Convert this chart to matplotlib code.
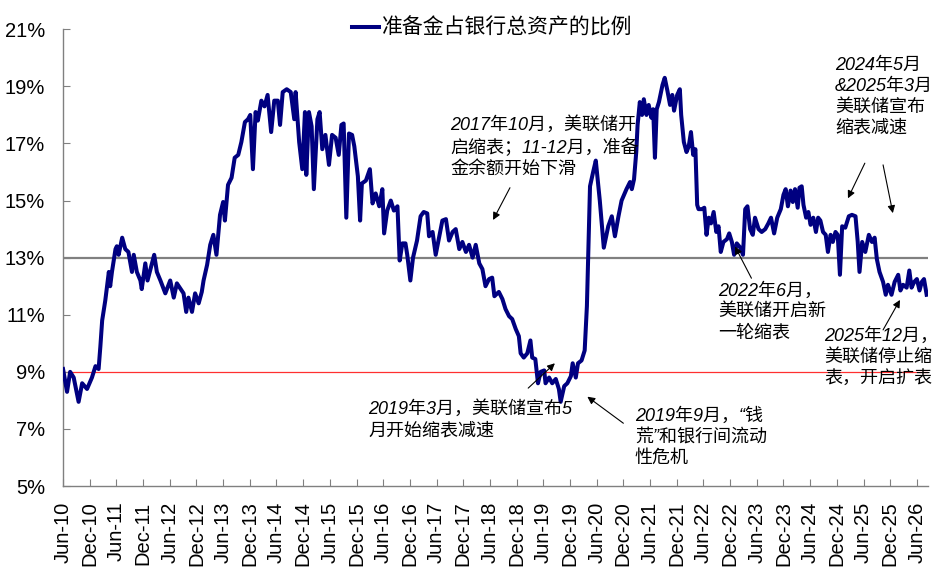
import matplotlib.pyplot as plt
from matplotlib.ticker import FuncFormatter

plt.rcParams['font.family'] = ['Liberation Sans', 'Noto Sans CJK SC']

# ---------------- data: months since Jun-2010, reserve / total bank assets (%) ----------------
months = [
    0, 0.9, 1.6, 2.4, 3.5, 4.3, 5.4, 6.5, 7.3, 8.0, 8.4, 8.8, 9.5, 9.9, 10.3, 10.6, 11.0,
    11.8, 12.1, 12.5, 13.3, 14.0, 14.7, 15.5, 15.9, 16.6, 17.4, 17.7, 18.5, 19.0, 20.0,
    20.5, 21.1, 21.9, 23.0, 24.1, 24.9, 25.6, 27.1, 27.7, 28.2, 29.0, 29.7, 30.5, 31.2,
    31.6, 32.4, 33.1,
    33.8, 34.5, 35.3, 36.0, 36.4, 37.1, 37.9, 38.6, 39.4, 40.1, 40.9, 41.6, 42.1, 42.7,
    43.3, 43.8, 44.6, 45.3, 46.0, 46.8, 47.5, 48.3, 48.8, 49.4, 50.3, 51.2, 52.0, 52.3,
    53.1, 53.8, 54.4, 54.7, 55.3, 55.9, 56.4, 57.2, 57.7, 58.3, 59.0, 59.8, 60.5, 61.3,
    62.0, 62.6, 63.1, 63.7,
    64.3, 65.0, 65.5, 66.3, 66.8, 67.2, 68.1, 69.0, 69.6, 70.3, 71.1, 71.8, 72.2, 72.9,
    73.7, 74.4, 75.2, 75.7, 76.3, 77.0, 77.4, 78.1, 78.7, 79.6, 80.4, 81.1, 81.9, 82.3,
    83.1, 83.8, 84.6, 85.3, 86.1, 86.8, 87.6, 88.3, 89.1, 89.8, 90.6, 91.3, 92.1, 92.8,
    93.6, 94.3,
    95.0, 95.8, 96.5, 97.0, 98.0, 98.8, 99.5, 100.3, 101.0, 101.8, 102.5, 102.9, 103.6,
    104.4, 105.1, 105.5, 106.2, 106.8, 107.4, 108.2, 108.5, 109.3, 110.0, 110.8, 111.5,
    111.9, 112.7, 113.4, 114.2, 114.6, 115.3, 115.8, 116.6, 117.3, 117.8, 118.1, 118.5,
    119.2, 119.8, 120.7, 121.6, 122.6, 123.4, 124.1, 124.9, 125.6, 126.7, 127.5, 127.9,
    128.4,
    128.9, 129.2, 129.7, 130.2, 130.6, 131.2, 131.7, 132.3, 132.7, 133.1, 133.5, 134.0,
    134.8, 135.3, 135.9, 136.5, 137.0, 137.4, 138.1, 138.7, 139.0, 139.6, 140.2, 140.7,
    141.2, 141.7, 142.2, 142.6, 142.9, 143.7, 144.2, 144.7, 145.2, 145.7, 146.3, 146.9,
    147.4, 147.9, 148.5, 149.3, 149.8, 150.4, 150.9, 151.5, 152.3, 152.9, 153.4, 153.9,
    154.5, 155.1, 155.6, 156.4, 157.1, 157.9, 158.6,
    159.2, 159.9, 160.6, 161.4, 162.0, 162.5, 163.0, 163.6, 164.1, 164.6, 165.2, 165.6,
    166.1, 166.5, 167.1, 167.6, 168.1, 168.7, 169.3, 169.8, 170.3, 170.9, 171.5, 172.0,
    172.6, 173.1, 173.7, 174.2, 174.7, 175.2, 175.9, 176.7, 177.4, 178.2, 178.7, 179.1,
    179.7, 180.4, 181.2, 181.9, 182.5, 183.0, 183.6, 184.4, 185.0, 185.5, 186.3, 187.0,
    187.8, 188.3, 188.9, 189.7, 190.3, 190.8, 191.4, 192.0, 192.6, 193.1, 193.6, 194.2,
]
ratio = [
    9.1, 8.3, 9.0, 8.8, 7.95, 8.6, 8.4, 8.8, 9.2, 9.1, 9.9, 10.8, 11.5, 12.0, 12.5, 12.0, 12.5,
    13.3, 13.4, 13.1, 13.7, 13.3, 13.2, 12.5, 13.1, 12.5, 12.2, 11.9, 12.8, 12.2, 12.8,
    13.1, 12.5, 12.2, 11.75, 12.2, 11.6, 12.1, 11.75, 11.1, 11.6, 11.1, 11.75, 11.4, 11.8,
    12.2, 12.75, 13.45,
    13.8, 13.1, 14.5, 14.95, 14.3, 15.55, 15.8, 16.5, 16.6, 17.05, 17.75, 17.85, 18.0, 16.1,
    18.1, 17.8, 18.5, 18.3, 18.7, 17.4, 18.5, 18.5, 17.65, 18.8, 18.9, 18.8, 17.85, 18.8,
    17.05, 16.1, 18.1, 15.9, 18.1, 17.6, 15.4, 17.85, 18.1, 16.8, 17.3, 16.25, 17.3, 17.2,
    16.6, 17.65, 17.7, 14.4,
    17.35, 17.3, 16.9, 15.85, 14.3, 15.6, 15.7, 16.1, 14.9, 15.25, 14.8, 15.4, 13.85, 14.65,
    15.0, 14.65, 14.8, 12.9, 13.5, 13.5, 13.1, 12.2, 13.0, 13.6, 14.45, 14.6, 14.55, 13.75,
    13.9, 13.1, 13.75, 14.3, 14.35, 13.6, 13.9, 14.0, 13.3, 13.55, 13.2, 13.45, 13.0, 13.45,
    12.8, 12.6,
    12.0, 12.25, 12.3, 11.65, 11.8, 11.55, 11.2, 10.95, 10.85, 10.5, 10.25, 9.65, 9.5,
    9.65, 10.1, 9.5, 9.45, 8.6, 9.0, 9.05, 8.6, 8.8, 8.6, 8.75, 8.4,
    7.95, 8.5, 8.6, 8.85, 9.3, 8.8, 9.3, 9.4, 9.75, 11.3, 13.05, 15.5,
    16.0, 16.4, 15.0, 13.35, 14.1, 14.45, 13.75, 14.45, 15.0, 15.4, 15.65, 15.4,
    15.75,
    16.7, 17.65, 18.45, 18.0, 18.55, 18.0, 18.35, 17.9, 18.2, 16.5, 18.2, 18.45,
    19.05, 19.3, 18.85, 18.35, 18.7, 18.15, 18.7, 18.9, 18.0, 17.05, 16.7, 16.9,
    17.4, 16.6, 16.8, 14.85, 14.7, 14.7, 14.75, 13.8, 14.4, 14.2, 14.6, 13.9,
    14.1, 13.2, 13.55, 13.65, 13.85, 13.55, 13.1, 13.5, 13.35, 13.1, 14.7, 14.8,
    14.0, 13.8, 14.4, 14.0, 13.9, 14.0, 14.2,
    14.4, 13.85, 14.4, 14.7, 15.2, 15.4, 14.8, 15.35, 14.95, 15.4, 14.75, 15.45,
    15.5, 14.85, 14.4, 14.6, 14.15, 14.4, 13.9, 14.4, 14.3, 13.9, 13.8, 13.2,
    13.8, 13.55, 13.9, 13.8, 12.4, 14.1, 14.05, 14.45, 14.5, 14.45, 13.55, 12.5,
    13.55, 13.2, 13.8, 13.55, 13.7, 12.95, 12.5, 12.15, 11.7, 12.05, 11.7, 12.15,
    12.4, 11.85, 12.05, 11.95, 12.55, 11.95, 12.15, 12.25, 11.85, 12.15, 12.25, 11.7,
]

tick_labels = [
    'Jun-10', 'Dec-10', 'Jun-11', 'Dec-11', 'Jun-12', 'Dec-12', 'Jun-13', 'Dec-13',
    'Jun-14', 'Dec-14', 'Jun-15', 'Dec-15', 'Jun-16', 'Dec-16', 'Jun-17', 'Dec-17',
    'Jun-18', 'Dec-18', 'Jun-19', 'Dec-19', 'Jun-20', 'Dec-20', 'Jun-21', 'Dec-21',
    'Jun-22', 'Dec-22', 'Jun-23', 'Dec-23', 'Jun-24', 'Dec-24', 'Jun-25', 'Dec-25',
    'Jun-26',
]
ref_high = 13
ref_low = 9

# ---------------- plot ----------------
fig = plt.figure(figsize=(9.45, 5.8), dpi=100)
ax = fig.add_axes([0.0667, 0.162, 0.9153, 0.7875])

ax.axhline(ref_high, color='#808080', lw=1.6, zorder=1)
ax.axhline(ref_low, color='#ff3030', lw=0.9, zorder=1)
ax.plot(months, ratio, color='#000080', lw=2.9, solid_joinstyle='round',
        label='准备金占银行总资产的比例', zorder=3)

ax.set_xlim(0, 194.5)
ax.set_ylim(5, 21)
ax.set_yticks(range(5, 22, 2))
ax.yaxis.set_major_formatter(FuncFormatter(lambda v, p: f'{v:.0f}%'))
ax.set_xticks(range(0, 6 * len(tick_labels), 6))
ax.set_xticklabels(tick_labels, rotation=90)

for s in ['top', 'right']:
    ax.spines[s].set_visible(False)
for s in ['left', 'bottom']:
    ax.spines[s].set_color('#808080')
    ax.spines[s].set_linewidth(1.0)
ax.tick_params(axis='y', direction='in', length=5, color='#808080', labelsize=14.5, pad=13)
ax.tick_params(axis='x', direction='in', length=5, color='#808080', labelsize=14.5, pad=11)

leg = fig.legend(loc='center', bbox_to_anchor=(0.521, 0.952), frameon=False,
                 prop={'family': 'Noto Sans CJK SC', 'size': 15},
                 handlelength=1.3, handletextpad=0.15, borderpad=0)

# ---------------- annotations ----------------
note_font = dict(fontsize=13, style='italic', linespacing=1.3, va='top', ha='left')
arrow = dict(arrowstyle='-|>', color='black', lw=0.8, mutation_scale=11, shrinkA=0, shrinkB=0)

ax.text(87.1, 17.95, '2017年10月，美联储开\n启缩表；11-12月，准备\n金余额开始下滑', **note_font)
ax.annotate('', xy=(96.7, 14.32), xytext=(100.5, 15.45), arrowprops=arrow)

ax.text(68.6, 8.0, '2019年3月，美联储宣布5\n月开始缩表减速', **note_font)
ax.annotate('', xy=(110.6, 9.3), xytext=(104.6, 8.43), arrowprops=arrow)

ax.text(128.6, 7.75, '2019年9月，“钱\n荒”和银行间流动\n性危机', **note_font)
ax.annotate('', xy=(117.9, 8.13), xytext=(126.0, 7.2), arrowprops=arrow)

ax.text(147.3, 12.15, '2022年6月，\n美联储开启新\n一轮缩表', **note_font)
ax.annotate('', xy=(151.1, 13.39), xytext=(154.8, 12.28), arrowprops=arrow)

ax.text(173.6, 20.02, '2024年5月\n&2025年3月\n美联储宣布\n缩表减速', **note_font)
ax.annotate('', xy=(176.5, 15.08), xytext=(180.3, 16.31), arrowprops=arrow)
ax.annotate('', xy=(186.6, 14.56), xytext=(184.4, 16.25), arrowprops=arrow)

ax.text(171.1, 10.56, '2025年12月，\n美联储停止缩\n表，开启扩表', **note_font)
ax.annotate('', xy=(188.2, 11.52), xytext=(184.4, 10.47), arrowprops=arrow)

fig.savefig('out.png', dpi=100)
